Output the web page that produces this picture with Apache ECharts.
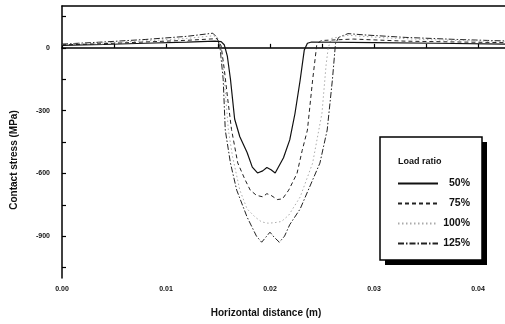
<!DOCTYPE html>
<html>
<head>
<meta charset="utf-8">
<script src="https://cdn.jsdelivr.net/npm/echarts@6/dist/echarts.min.js"></script>
<style>
  html, body { margin: 0; padding: 0; background: #fff; }
  #chart { width: 505px; height: 324px; }
</style>
</head>
<body>
<div id="chart"></div>
<script>
// values: [horizontal distance (m), contact stress (MPa)]
var load50 = [
    [0, 12], [0.004, 16], [0.008, 22], [0.012, 27], [0.0147, 32], [0.0153, 30], [0.0156, 15],
    [0.0159, -40], [0.0162, -150], [0.0166, -340], [0.0171, -425], [0.0178, -500], [0.0183, -570],
    [0.0188, -598], [0.0193, -588], [0.0197, -572], [0.0201, -583], [0.0205, -598], [0.0213, -525],
    [0.0219, -440], [0.0224, -315], [0.0229, -155], [0.0233, -10], [0.0236, 22], [0.0240, 28],
    [0.030, 25], [0.036, 22], [0.0426, 18]
];
var load75 = [
    [0, 14], [0.004, 20], [0.008, 28], [0.012, 36], [0.0149, 44], [0.0153, 10], [0.0156, -100],
    [0.0159, -230], [0.0163, -390], [0.0169, -550], [0.0176, -630], [0.0181, -680], [0.0187, -705],
    [0.0193, -712], [0.0197, -697], [0.0201, -705], [0.0207, -725], [0.0212, -722], [0.0218, -680],
    [0.0226, -600], [0.0231, -490], [0.0236, -393], [0.0241, -154], [0.0245, 15], [0.0249, 35],
    [0.028, 42], [0.033, 32], [0.038, 28], [0.0426, 25]
];
var load100 = [
    [0, 16], [0.004, 24], [0.008, 33], [0.012, 45], [0.0146, 58], [0.0150, 45], [0.0153, 0],
    [0.0156, -150], [0.0160, -393], [0.0164, -520], [0.0171, -680], [0.0178, -770], [0.0186, -810],
    [0.0192, -832], [0.0198, -838], [0.0204, -836], [0.0211, -830], [0.0218, -800], [0.0229, -713],
    [0.0241, -551], [0.0250, -312], [0.0254, -80], [0.0256, 0], [0.0259, 45], [0.0275, 60],
    [0.031, 48], [0.036, 38], [0.0426, 30]
];
var load125 = [
    [0, 18], [0.004, 28], [0.008, 40], [0.012, 55], [0.0145, 70], [0.0149, 50], [0.0152, 0],
    [0.0155, -150], [0.0157, -393], [0.0162, -551], [0.0168, -680], [0.0178, -809], [0.0187, -900],
    [0.0192, -929], [0.0196, -905], [0.0200, -881], [0.0204, -905], [0.0209, -929], [0.0214, -900],
    [0.0219, -845], [0.0229, -770], [0.0248, -551], [0.0255, -393], [0.0260, -154], [0.0263, 20],
    [0.0266, 50], [0.0275, 68], [0.029, 62], [0.033, 50], [0.038, 40], [0.0426, 33]
];
var seriesNames = ['50%', '75%', '100%', '125%'];
var xLabels = [0, 0.01, 0.02, 0.03, 0.04];
var xTicks = [0, 0.005, 0.01, 0.015, 0.02, 0.025, 0.03, 0.035, 0.04];
var yLabels = [-900, -600, -300, 0];
var yTicks = [-1050, -900, -750, -600, -450, -300, -150, 0, 150];

var FONT = 'Liberation Sans, Arial, sans-serif';

var chart = echarts.init(document.getElementById('chart'), null, { renderer: 'canvas' });

var lineStyles = [
    { color: '#111', width: 1.2, type: 'solid' },
    { color: '#222', width: 1, type: [4, 3] },
    { color: '#aaa', width: 1, type: [1.5, 2.5] },
    { color: '#222', width: 1, type: [6, 2, 1.5, 2] }
];
var allData = [load50, load75, load100, load125];

var option = {
    backgroundColor: '#fff',
    animation: false,
    grid: { left: 62, right: 0, top: 6, bottom: 46, containLabel: false },
    xAxis: [{
        type: 'value',
        min: 0,
        max: 0.0426,
        axisLine: { lineStyle: { color: '#000', width: 1.5 } },
        axisTick: { inside: true, length: 4, lineStyle: { color: '#000', width: 1.2 }, customValues: xTicks },
        axisLabel: {
            customValues: xLabels, margin: 8, color: '#111',
            fontFamily: FONT, fontSize: 7, fontWeight: 'bold',
            formatter: function (v) { return v.toFixed(2); }
        },
        splitLine: { show: false }
    }, {
        type: 'value',
        position: 'top',
        min: 0,
        max: 0.0426,
        axisLine: { show: true, lineStyle: { color: '#000', width: 1.5 } },
        axisTick: { show: false },
        axisLabel: { show: false },
        splitLine: { show: false }
    }],
    yAxis: {
        type: 'value',
        min: -1100,
        max: 200,
        axisLine: { show: true, lineStyle: { color: '#000', width: 1.5 } },
        axisTick: { show: true, inside: true, length: 4, lineStyle: { color: '#000', width: 1.2 }, customValues: yTicks },
        axisLabel: {
            customValues: yLabels, margin: 12, color: '#111',
            fontFamily: FONT, fontSize: 7, fontWeight: 'bold'
        },
        splitLine: { show: false }
    },
    legend: {
        orient: 'vertical',
        left: 392,
        top: 173,
        itemWidth: 40,
        itemHeight: 10,
        itemGap: 9,
        z: 20,
        data: seriesNames,
        itemStyle: { opacity: 0 },
        formatter: function (name) { return '{a|' + name + '}'; },
        textStyle: {
            rich: {
                a: { width: 27, align: 'right', fontFamily: FONT, fontSize: 10.5, fontWeight: 'bold', color: '#111' }
            }
        }
    },
    graphic: [
        { type: 'rect', shape: { x: 385, y: 142, width: 102, height: 123 }, style: { fill: '#000' }, z: 10 },
        { type: 'rect', shape: { x: 380, y: 137, width: 102, height: 123 }, style: { fill: '#fff', stroke: '#000', lineWidth: 1.5 }, z: 11 },
        { type: 'text', x: 398, y: 162, style: { text: 'Load ratio', fontFamily: FONT, fontSize: 9, fontWeight: 'bold', fill: '#111', verticalAlign: 'middle' }, z: 12 },
        { type: 'text', x: 266, y: 313, style: { text: 'Horizontal distance (m)', fontFamily: FONT, fontSize: 10, fontWeight: 'bold', fill: '#111', align: 'center', verticalAlign: 'middle' }, z: 12 },
        { type: 'text', x: 14, y: 160, rotation: Math.PI / 2, style: { text: 'Contact stress (MPa)', fontFamily: FONT, fontSize: 10, fontWeight: 'bold', fill: '#111', align: 'center', verticalAlign: 'middle' }, z: 12 }
    ],
    series: allData.map(function (d, i) {
        return {
            name: seriesNames[i],
            type: 'line',
            data: d,
            symbol: 'none',
            lineStyle: lineStyles[i],
            itemStyle: { color: lineStyles[i].color },
            z: 5 - i
        };
    })
};

chart.setOption(option);
</script>
</body>
</html>
